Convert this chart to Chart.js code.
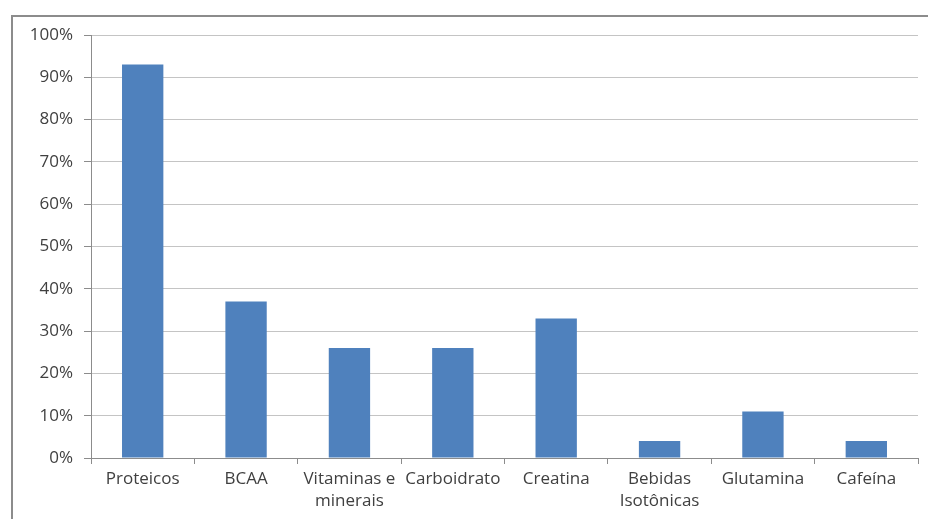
<!DOCTYPE html>
<html>
<head>
<meta charset="utf-8">
<script src="https://cdn.jsdelivr.net/npm/chart.js@4.4.0/dist/chart.umd.min.js"></script>
<style>
  html, body { margin: 0; padding: 0; background: #fff; overflow: hidden; }
  #moldura {
    position: absolute; left: 11px; top: 15px;
    width: 940px; height: 540px;
    border: 2px solid #8c8c8c; box-sizing: border-box;
  }
  #caixa { position: absolute; left: 0; top: 0; width: 928px; height: 519px; }
</style>
</head>
<body>
<div id="moldura"></div>
<div id="caixa"><canvas id="grafico"></canvas></div>
<script>
// suplementos consumidos (% dos entrevistados)
const categorias = [
  "Proteicos",
  "BCAA",
  ["Vitaminas e", "minerais"],
  "Carboidrato",
  "Creatina",
  ["Bebidas", "Isotônicas"],
  "Glutamina",
  "Cafeína"
];
const percentuais = [93, 37, 26, 26, 33, 4, 11, 4];
const marcasY = [0, 10, 20, 30, 40, 50, 60, 70, 80, 90, 100];

const corTexto = "#404040";
const fonte = { family: "'Open Sans', sans-serif", size: 17, lineHeight: 1.25 };

const ctx = document.getElementById("grafico").getContext("2d");
new Chart(ctx, {
  type: "bar",
  data: {
    labels: categorias,
    datasets: [{
      data: percentuais,
      backgroundColor: "#4f81bd",
      borderWidth: 0,
      categoryPercentage: 1,
      barPercentage: 0.4
    }]
  },
  options: {
    responsive: true,
    maintainAspectRatio: false,
    animation: false,
    layout: { padding: { top: 35, right: 10, bottom: 0, left: 0 } },
    plugins: { legend: { display: false }, tooltip: { enabled: false } },
    scales: {
      x: {
        offset: true,
        grid: {
          offset: true,
          drawOnChartArea: false,
          drawTicks: true,
          tickLength: 6,
          color: "#8c8c8c"
        },
        border: { color: "#8c8c8c" },
        ticks: { color: corTexto, font: fonte, padding: 5, maxRotation: 0, autoSkip: false },
        afterFit: s => { s.height = 61; }
      },
      y: {
        min: 0,
        max: 100,
        afterBuildTicks: s => { s.ticks = marcasY.map(v => ({ value: v })); },
        grid: { color: "#c4c4c4", tickColor: "#8c8c8c", tickLength: 7 },
        border: { color: "#8c8c8c" },
        ticks: { color: corTexto, font: fonte, padding: 11, callback: v => v + "%" },
        afterFit: s => { s.width = 91; }
      }
    }
  }
});
</script>
</body>
</html>
